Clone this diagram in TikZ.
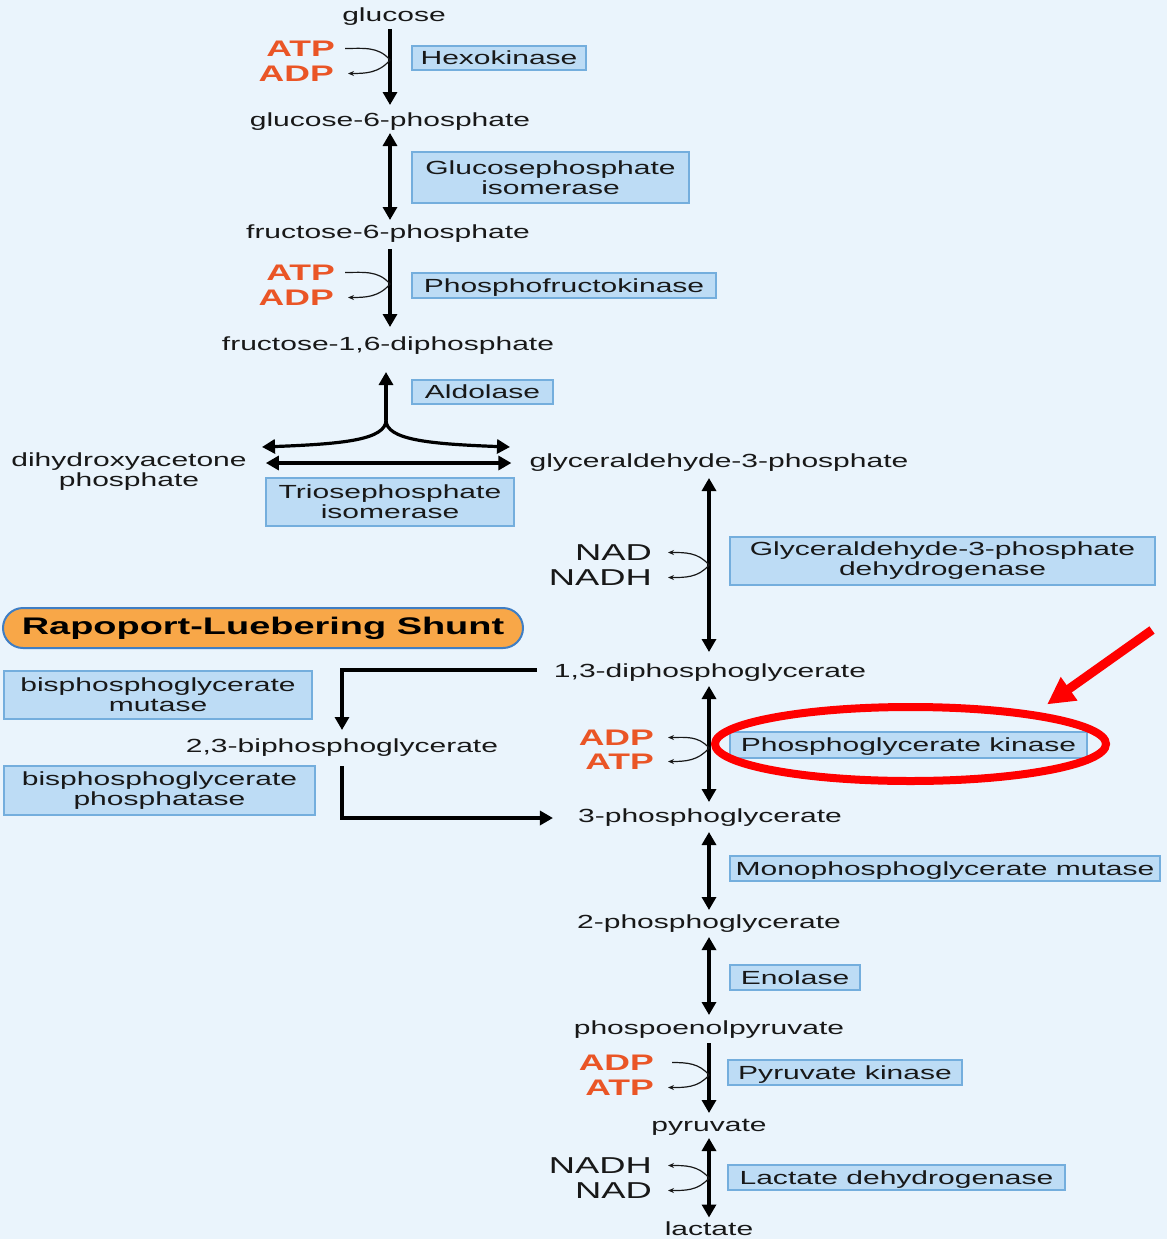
\documentclass[tikz,border=0pt]{standalone}
\usepackage{fontspec}
\setmainfont[FakeStretch=1.58]{Liberation Sans}
\usetikzlibrary{arrows.meta,shapes.geometric}
\definecolor{bg}{HTML}{EAF4FC}
\definecolor{boxfill}{HTML}{BDDCF5}
\definecolor{boxline}{HTML}{74AEDD}
\definecolor{ink}{HTML}{181818}
\definecolor{cofred}{HTML}{EA5526}
\definecolor{shuntfill}{HTML}{F8A748}
\definecolor{shuntline}{HTML}{3F7EC4}
\definecolor{hilite}{HTML}{FF0000}

\begin{document}
\begin{tikzpicture}[x=1pt,y=-1pt,
  cpd/.style={inner sep=0pt, text=ink, font=\fontsize{19}{20}\selectfont,
    text height=13.6pt, text depth=4pt},
  cpdtwo/.style={inner sep=0pt, text=ink, font=\fontsize{19}{20}\selectfont, align=center},
  enz/.style={draw=boxline, fill=boxfill, line width=1.6pt, inner sep=0pt,
    text=ink, font=\fontsize{19}{20}\selectfont, align=center},
  enzone/.style={enz, align=none, text height=13.6pt, text depth=0pt},
  cofactor/.style={inner sep=0pt, text=cofred, font=\fontsize{22.5}{24}\bfseries\selectfont, anchor=east},
  redox/.style={inner sep=0pt, text=ink, font=\fontsize{23}{24}\selectfont, anchor=east},
  shunt/.style={draw=shuntline, fill=shuntfill, line width=2pt, rounded corners=20pt,
    inner sep=0pt, text=black, font=\fontsize{24}{26}\bfseries\selectfont},
  flow/.style={line width=3.2pt, draw=black},
  tipf/.style={-{Triangle[length=13pt,width=14pt]}},
  tipb/.style={{Triangle[length=13pt,width=14pt]}-{Triangle[length=13pt,width=14pt]}},
  side/.style={line width=1.2pt, draw=ink},
  sidef/.style={-{Stealth[length=6pt,width=5pt]}},
  sideb/.style={{Stealth[length=6pt,width=5pt]}-{Stealth[length=6pt,width=5pt]}},
  ring/.style={ellipse, draw=hilite, line width=8pt, inner sep=0pt},
  pointer/.style={draw=hilite, line width=9pt, -{Triangle[length=27pt,width=27pt]}}
]
\fill[bg] (0,0) rectangle (1167,1239);
\useasboundingbox (0,0) rectangle (1167,1239);

% --- metabolites ---
\node[cpd] (glc)   at (394,17)   {glucose};
\node[cpd] (g6p)   at (390,122)  {glucose-6-phosphate};
\node[cpd] (f6p)   at (388,234)  {fructose-6-phosphate};
\node[cpd] (fbp)   at (388,346)  {fructose-1,6-diphosphate};
\node[cpdtwo] (dhap) at (129,472) {dihydroxyacetone\\phosphate};
\node[cpd] (ga3p)  at (719,463)  {glyceraldehyde-3-phosphate};
\node[cpd] (bpg13) at (710,673)  {1,3-diphosphoglycerate};
\node[cpd] (bpg23) at (342,748)  {2,3-biphosphoglycerate};
\node[cpd] (pg3)   at (710,818)  {3-phosphoglycerate};
\node[cpd] (pg2)   at (709,924)  {2-phosphoglycerate};
\node[cpd] (pep)   at (709,1030) {phospoenolpyruvate};
\node[cpd] (pyr)   at (709,1127) {pyruvate};
\node[cpd] (lac)   at (709,1230.5) {lactate};

% --- enzymes ---
\node[enzone, minimum width=174, minimum height=24] (hex)   at (499,58)     {Hexokinase};
\node[enz, minimum width=277, minimum height=51] (gpi)   at (550.5,177.5) {Glucosephosphate\\isomerase};
\node[enzone, minimum width=304, minimum height=25] (pfk)   at (564,285.5)  {Phosphofructokinase};
\node[enzone, minimum width=141, minimum height=24] (ald)   at (482.5,392)  {Aldolase};
\node[enz, minimum width=248, minimum height=48] (tpi)   at (390,502)    {Triosephosphate\\isomerase};
\node[enz, minimum width=425, minimum height=48] (gapdh) at (942.5,561)  {Glyceraldehyde-3-phosphate\\dehydrogenase};
\node[enzone, minimum width=357, minimum height=26] (pgk)   at (908.5,745)  {Phosphoglycerate kinase};
\node[enzone, minimum width=430, minimum height=25] (pgm)   at (945,868.5)  {Monophosphoglycerate mutase};
\node[enzone, minimum width=130, minimum height=25] (eno)   at (795,977.5)  {Enolase};
\node[enzone, minimum width=234, minimum height=25] (pk)    at (845,1072.5) {Pyruvate kinase};
\node[enzone, minimum width=337, minimum height=25] (ldh)   at (896.5,1177.5) {Lactate dehydrogenase};
\node[enz, minimum width=308, minimum height=48] (bpgm)  at (158,695)    {bisphosphoglycerate\\mutase};
\node[enz, minimum width=311, minimum height=49] (bpgp)  at (159.5,790.5) {bisphosphoglycerate\\phosphatase};
\node[shunt, minimum width=520, minimum height=40] (rls) at (263,628) {Rapoport-Luebering Shunt};

% --- cofactors ---
\node[cofactor] (atpA) at (335,48.5)   {ATP};
\node[cofactor] (adpA) at (334,73.5)   {ADP};
\node[cofactor] (atpB) at (335,272.5)  {ATP};
\node[cofactor] (adpB) at (334,297.5)  {ADP};
\node[redox]    (nadC)  at (652,552.5) {NAD};
\node[redox]    (nadhC) at (652,577.5) {NADH};
\node[cofactor] (adpD) at (654,737.5)  {ADP};
\node[cofactor] (atpD) at (654,761.5)  {ATP};
\node[cofactor] (adpE) at (654,1062.5) {ADP};
\node[cofactor] (atpE) at (654,1087.5) {ATP};
\node[redox]    (nadhF) at (652,1165.5) {NADH};
\node[redox]    (nadF)  at (652,1190.5) {NAD};

% points where the cofactor loops meet the main axis
\coordinate (tA) at (390,60);
\coordinate (tB) at (390,284);
\coordinate (tC) at (709,565);
\coordinate (tD) at (709,748);
\coordinate (tE) at (709,1075);
\coordinate (tF) at (709,1178);

% --- main pathway ---
\draw[flow,tipf,shorten <=3pt,shorten >=8pt] (glc.south -| tA) -- (g6p.north -| tA);
\draw[flow,tipb,shorten <=2pt,shorten >=5pt] (g6p.south -| tA) -- (f6p.north -| tA);
\draw[flow,tipf,shorten <=6pt,shorten >=10pt] (f6p.south -| tB) -- (fbp.north -| tB);

\coordinate (junc) at (386,420);
\coordinate (brl) at (262,447);
\coordinate (brr) at (510,447);
\draw[flow,tipf,shorten >=17pt] (junc) -- (fbp.south -| junc);
\draw[flow,tipf] (junc) .. controls +(0,20) and +(80,-3) .. (brl);
\draw[flow,tipf] (junc) .. controls +(0,20) and +(-80,-3) .. (brr);
\draw[flow,tipb,shorten <=19pt,shorten >=18pt] (dhap.east |- ga3p.west) -- (ga3p.west);

\draw[flow,tipb,shorten <=6pt,shorten >=12pt] (ga3p.south -| tC) -- (bpg13.north -| tC);
\draw[flow,tipb,shorten <=4pt,shorten >=7pt]  (bpg13.south -| tD) -- (pg3.north -| tD);
\draw[flow,tipb,shorten <=5pt,shorten >=5pt]  (pg3.south -| tD) -- (pg2.north -| tD);
\draw[flow,tipb,shorten <=4pt,shorten >=6pt]  (pg2.south -| tD) -- (pep.north -| tD);
\draw[flow,tipf,shorten <=4pt,shorten >=5pt]  (pep.south -| tE) -- (pyr.north -| tE);
\draw[flow,tipb,shorten <=2pt,shorten >=4pt]  (pyr.south -| tF) -- (lac.north -| tF);

% --- Rapoport-Luebering shunt ---
\draw[flow,tipf,shorten <=17pt,shorten >=9pt] (bpg13.west |- 0,670) -| (bpg23.north);
\draw[flow,tipf,shorten <=9pt,shorten >=25pt] (bpg23.south) |- (pg3.west);

% --- cofactor loops ---
\draw[side,sidef] ([xshift=10pt]atpA.east) to[out=0,in=130] (tA) to[out=-130,in=0] ([xshift=14pt]adpA.east);
\draw[side,sidef] ([xshift=10pt]atpB.east) to[out=0,in=130] (tB) to[out=-130,in=0] ([xshift=14pt]adpB.east);
\draw[side,sideb] ([xshift=16pt]nadC.east) to[out=0,in=130] (tC) to[out=-130,in=0] ([xshift=16pt]nadhC.east);
\draw[side,sideb] ([xshift=14pt]adpD.east) to[out=0,in=130] (tD) to[out=-130,in=0] ([xshift=14pt]atpD.east);
\draw[side,sidef] ([xshift=18pt]adpE.east) to[out=0,in=130] (tE) to[out=-130,in=0] ([xshift=14pt]atpE.east);
\draw[side,sideb] ([xshift=16pt]nadhF.east) to[out=0,in=130] (tF) to[out=-130,in=0] ([xshift=16pt]nadF.east);

% --- highlight on phosphoglycerate kinase ---
\node[ring, minimum width=391, minimum height=74] (ring) at (910.5,744) {};
\coordinate (ptr) at (1152,630);
\draw[pointer] (ptr) -- ([shift={(4,-9)}]ring.13);
\end{tikzpicture}
\end{document}
